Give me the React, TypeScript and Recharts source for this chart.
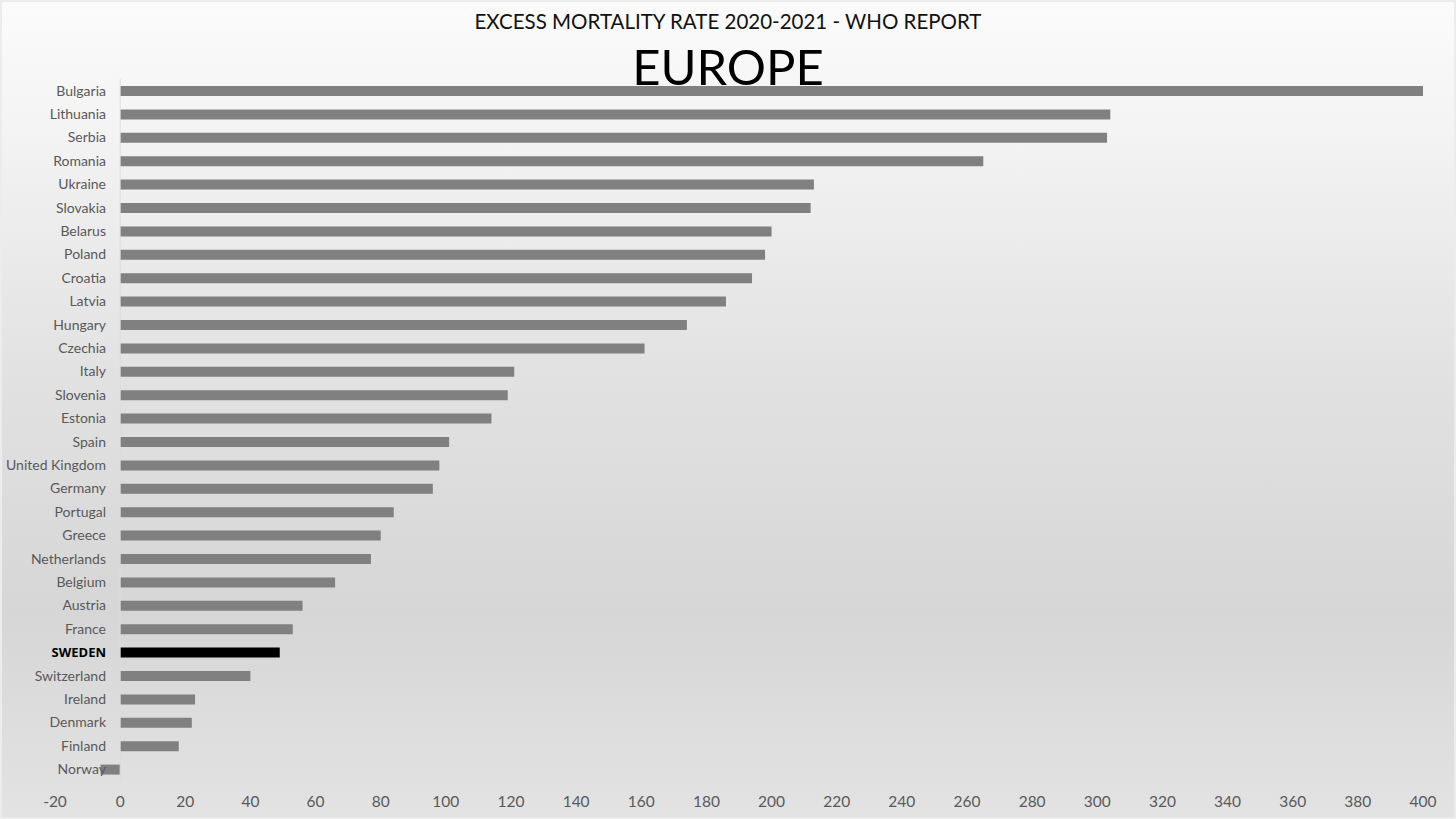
import React from 'react';
import { BarChart, Bar, XAxis, YAxis, Cell, ReferenceLine } from 'recharts';

// countries, top to bottom
const countries = [
  'Bulgaria', 'Lithuania', 'Serbia', 'Romania', 'Ukraine', 'Slovakia', 'Belarus',
  'Poland', 'Croatia', 'Latvia', 'Hungary', 'Czechia', 'Italy', 'Slovenia',
  'Estonia', 'Spain', 'United Kingdom', 'Germany', 'Portugal', 'Greece',
  'Netherlands', 'Belgium', 'Austria', 'France', 'SWEDEN', 'Switzerland',
  'Ireland', 'Denmark', 'Finland', 'Norway',
];

// excess deaths per 100k
const excessRate = [
  400, 304, 303, 265, 213, 212, 200, 198, 194, 186, 174, 161, 121, 119,
  114, 101, 98, 96, 84, 80, 77, 66, 56, 53, 49, 40, 23, 22, 18, -6,
];

const xTicks = [-20, 0, 20, 40, 60, 80, 100, 120, 140, 160, 180, 200, 220, 240, 260, 280, 300, 320, 340, 360, 380, 400];

const highlight = 'SWEDEN';

const data = countries.map((c, i) => ({ country: c, rate: excessRate[i] }));

const FONT = 'Lato, "Open Sans", sans-serif';

// y labels sit right of the -20..0 strip, ending just before the zero line
const CountryTick = (props: any) => {
  const { x, y, payload } = props;
  const isHi = payload.value === highlight;
  return (
    <text
      x={x + 59}
      y={y}
      dy="0.35em"
      textAnchor="end"
      fontFamily={isHi ? '"Open Sans", sans-serif' : FONT}
      fontWeight={isHi ? 700 : 400}
      fontSize={isHi ? 13 : 14}
      fill={isHi ? '#000' : '#595959'}
    >
      {payload.value}
    </text>
  );
};

export default function App() {
  return (
    <div
      style={{
        position: 'absolute',
        left: 0,
        top: 0,
        width: 1456,
        height: 819,
        background: 'linear-gradient(to bottom, #fbfbfb 0%, #f4f4f4 15%, #e2e2e2 45%, #d6d6d6 75%, #e3e3e3 100%)',
        boxShadow: 'inset 0 0 0 2px #ececec',
        fontFamily: FONT,
      }}
    >
      <div style={{ position: 'absolute', top: 9, left: 0, width: 1456, textAlign: 'center', fontSize: 20.5, color: '#111' }}>
        EXCESS MORTALITY RATE 2020-2021 - WHO REPORT
      </div>
      <div style={{ position: 'absolute', top: 38, left: 0, width: 1456, textAlign: 'center', fontSize: 49, lineHeight: '56px', color: '#000' }}>
        EUROPE
      </div>
      <div style={{ position: 'absolute', left: 0, top: 0 }}>
        <BarChart
          width={1456}
          height={819}
          layout="vertical"
          data={data}
          margin={{ top: 79, right: 33, bottom: 8, left: 0 }}
          barCategoryGap={0}
        >
          <XAxis
            type="number"
            domain={[-20, 400]}
            ticks={xTicks}
            axisLine={false}
            tickLine={false}
            tickMargin={9}
            height={30}
            tick={{ fill: '#595959', fontSize: 15.5, fontFamily: FONT }}
            interval={0}
          />
          <YAxis
            type="category"
            dataKey="country"
            width={55}
            axisLine={false}
            tickLine={false}
            interval={0}
            tick={<CountryTick />}
          />
          <ReferenceLine x={0} stroke="#dcdcdc" strokeWidth={1} />
          <Bar dataKey="rate" barSize={10} isAnimationActive={false}>
            {data.map((d, i) => (
              <Cell key={`c-${i}`} fill={d.country === highlight ? '#000000' : '#808080'} />
            ))}
          </Bar>
        </BarChart>
      </div>
    </div>
  );
}
